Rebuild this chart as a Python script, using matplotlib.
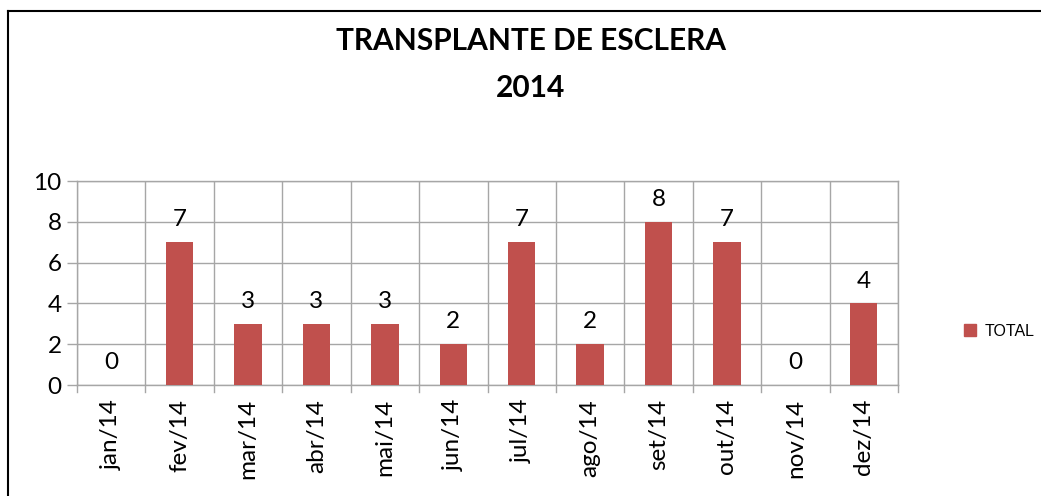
import matplotlib
matplotlib.use("Agg")
import matplotlib.pyplot as plt
from matplotlib.lines import Line2D
import numpy as np

months = ["jan/14", "fev/14", "mar/14", "abr/14", "mai/14", "jun/14",
          "jul/14", "ago/14", "set/14", "out/14", "nov/14", "dez/14"]
totals = [0, 7, 3, 3, 3, 2, 7, 2, 8, 7, 0, 4]
yticks = [0, 2, 4, 6, 8, 10]

BAR = "#C0504D"
GRID = "#A6A6A6"
FONT = ["Lato", "DejaVu Sans"]

fig = plt.figure(figsize=(10.41, 4.96), dpi=100)
ax = fig.add_axes([77/1041, 1 - 385/496, (898-77)/1041, (385-181)/496])

x = np.arange(len(months))
bars = ax.bar(x, totals, width=0.4, color=BAR, zorder=3, label="TOTAL")
ax.set_xlim(-0.5, len(months) - 0.5)
ax.set_ylim(0, 10)
ax.set_yticks(yticks)
ax.set_yticklabels([str(v) for v in yticks], fontsize=17.5, family=FONT)
ax.set_xticks(x)
ax.set_xticklabels(months, rotation=90, fontsize=17.5, family=FONT)
ax.tick_params(axis="x", length=0, pad=10)
ax.tick_params(axis="y", length=7, color=GRID, width=1, pad=4)

# vertical gridlines at category boundaries, extending below axis
for b in np.arange(-0.5, len(months) + 0.5, 1):
    ax.axvline(b, color=GRID, lw=1, zorder=1)
    ax.plot([b, b], [0, -0.35], color=GRID, lw=1, clip_on=False, zorder=1)
ax.yaxis.grid(True, color=GRID, lw=1, zorder=1)
for s in ax.spines.values():
    s.set_color(GRID)
    s.set_linewidth(1)

for xi, v in zip(x, totals):
    ax.annotate(str(v), (xi, v), xytext=(0, 16), textcoords="offset points",
                ha="center", va="center", fontsize=17.5, family=FONT)

fig.text(531/1041, 1 - 41/496, "TRANSPLANTE DE ESCLERA", ha="center", va="center",
         fontsize=21.5, fontweight="bold", family=FONT)
fig.text(531/1041, 1 - 88/496, "2014", ha="center", va="center",
         fontsize=21.5, fontweight="bold", family=FONT)

handle = Line2D([], [], marker="s", color=BAR, linestyle="none", markersize=9)
fig.legend([handle], ["TOTAL"], loc="center left", bbox_to_anchor=(957/1041, 1 - 331/496),
           frameon=False, prop={"family": ["Liberation Sans", "DejaVu Sans"], "size": 11.5},
           handlelength=0.8, handletextpad=0.5, borderaxespad=0)

# frame lines (left and top)
fig.add_artist(Line2D([8/1041, 8/1041], [0, 1 - 11/496], color="black", lw=1.5, transform=fig.transFigure))
fig.add_artist(Line2D([8/1041, 1], [1 - 11/496, 1 - 11/496], color="black", lw=1.5, transform=fig.transFigure))

fig.savefig("out.png", dpi=100)
